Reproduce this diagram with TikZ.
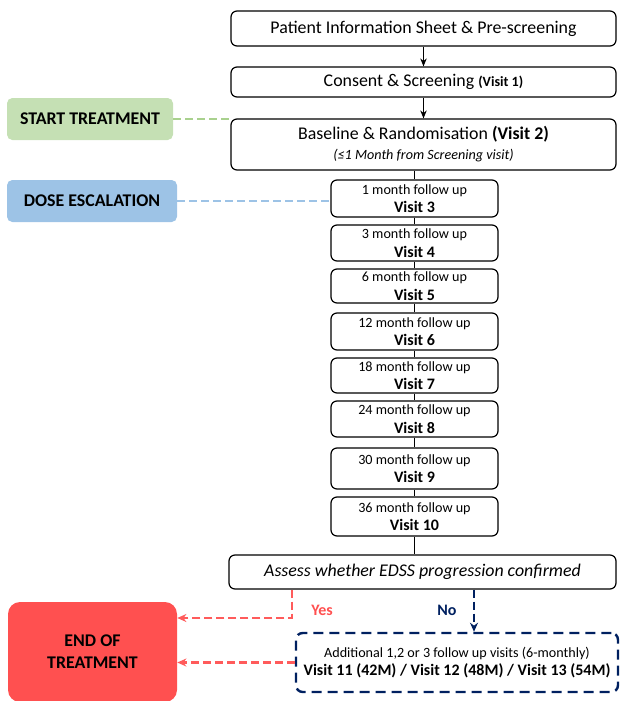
\documentclass[tikz,border=0pt]{standalone}
\usepackage{fontspec}
\setmainfont{Carlito}
\usetikzlibrary{arrows.meta,positioning,calc}
\definecolor{navy}{HTML}{002060}
\definecolor{redfill}{HTML}{FF5050}
\definecolor{reddash}{HTML}{FF5B5B}
\definecolor{greenfill}{HTML}{C5E0B4}
\definecolor{greendash}{HTML}{A9D18E}
\definecolor{bluefill}{HTML}{9DC3E6}
\newcommand{\px}{0.75pt}
\tikzset{
  mainfont/.style={font=\fontsize{13.4}{16}\selectfont},
  visitfont/.style={font=\fontsize{10.6}{14}\selectfont},
  stagebox/.style={rounded corners=4.5pt,draw=black,fill=white,line width=0.9pt,inner sep=0pt,align=center},
  sidebox/.style={rounded corners=4pt,inner sep=0pt,align=center,font=\bfseries\fontsize{13.4}{16.5}\selectfont},
  arr/.style={-{Stealth[length=2.1mm,width=1.7mm]},draw=black,line width=1pt},
  link/.style={draw=black,line width=0.9pt},
  dashgreen/.style={draw=greendash,line width=2.2pt,dash pattern=on 6pt off 3pt},
  dashblue/.style={draw=bluefill,line width=2.2pt,dash pattern=on 6pt off 3pt},
  arrred/.style={-{Stealth[length=2.4mm,width=2.1mm]},draw=reddash,line width=2.2pt,dash pattern=on 6pt off 3pt},
  arrnavy/.style={-{Stealth[length=2.4mm,width=2.1mm]},draw=navy,line width=2.2pt,dash pattern=on 6pt off 3pt}
}
\begin{document}
\begin{tikzpicture}[x=\px,y=-\px]
\path[use as bounding box] (0,0) rectangle (620,701);
% main column
\node[stagebox,mainfont,minimum width=385*\px,minimum height=35*\px] (pis) at (423.5,28.5) {Patient Information Sheet \& Pre-screening};
\node[stagebox,mainfont,minimum width=385*\px,minimum height=30*\px] (consent) at (423.5,82) {Consent \& Screening {\bfseries\fontsize{10.6}{13}\selectfont(Visit 1)}};
\node[stagebox,mainfont,minimum width=385*\px,minimum height=51*\px] (base) at (423.5,144.5) {Baseline \& Randomisation \textbf{(Visit 2)}\\[-1pt]{\itshape\fontsize{10.6}{13}\selectfont(≤1 Month from Screening visit)}};
\foreach \n/\y/\h/\m in {3/198.5/37/1,4/243/36/3,5/286/34/6,6/331.5/37/12,7/375.5/35/18,8/419/36/24,9/468.5/41/30,10/516.5/39/36}
{
\node[stagebox,visitfont,minimum width=167*\px,minimum height=\h*\px] (v\n) at (414.5,\y) {\m\ month follow up\\{\bfseries\fontsize{12}{14}\selectfont Visit \n}};
}
\foreach \a/\b in {3/4,4/5,5/6,6/7,7/8,8/9,9/10}{\draw[link] (v\a.south) -- (v\b.north);}
\node[stagebox,minimum width=387*\px,minimum height=34*\px,font=\itshape\fontsize{13.4}{16}\selectfont] (assess) at (422.5,572) {Assess whether EDSS progression confirmed};
\node[rounded corners=5pt,draw=navy,line width=1.8pt,dash pattern=on 7.5pt off 4.5pt,inner sep=0pt,align=center,minimum width=322*\px,minimum height=59*\px] (add) at (457,662.5) {{\fontsize{10.6}{13}\selectfont Additional 1,2 or 3 follow up visits (6-monthly)}\\[1pt]{\bfseries\fontsize{12}{14}\selectfont Visit 11 (42M) / Visit 12 (48M) / Visit 13 (54M)}};
% side labels
\node[sidebox,fill=greenfill,minimum width=166*\px,minimum height=42*\px] (start) at (90,119) {START TREATMENT};
\node[sidebox,fill=bluefill,minimum width=170*\px,minimum height=42*\px] (dose) at (92,201) {DOSE ESCALATION};
\node[sidebox,fill=redfill,rounded corners=9pt,minimum width=169*\px,minimum height=100*\px] (eot) at (92.5,652) {END OF\\TREATMENT};
% connectors
\draw[arr] (pis) -- (consent);
\draw[arr] (consent) -- (base);
\draw[link] (v3.north |- base.south) -- (v3.north);
\draw[link] (v10.south) -- (v10.south |- assess.north);
\draw[dashgreen] (start.east) -- (start.east -| base.west);
\draw[dashblue] (dose.east) -- (dose.east -| v3.west);
\coordinate (yesturn) at (292,618);
\coordinate (nox) at (474,600);
\draw[arrred] (yesturn |- assess.south) -- (yesturn) -- (yesturn -| eot.east);
\draw[arrnavy] (nox |- assess.south) -- (nox |- add.north);
\draw[arrred] (add.west) -- (add.west -| eot.east);
\node[font=\bfseries\fontsize{12}{14}\selectfont,text=redfill] (yes) at (322,610) {Yes};
\node[font=\bfseries\fontsize{12}{14}\selectfont,text=navy] (no) at (447,610) {No};
\end{tikzpicture}
\end{document}
